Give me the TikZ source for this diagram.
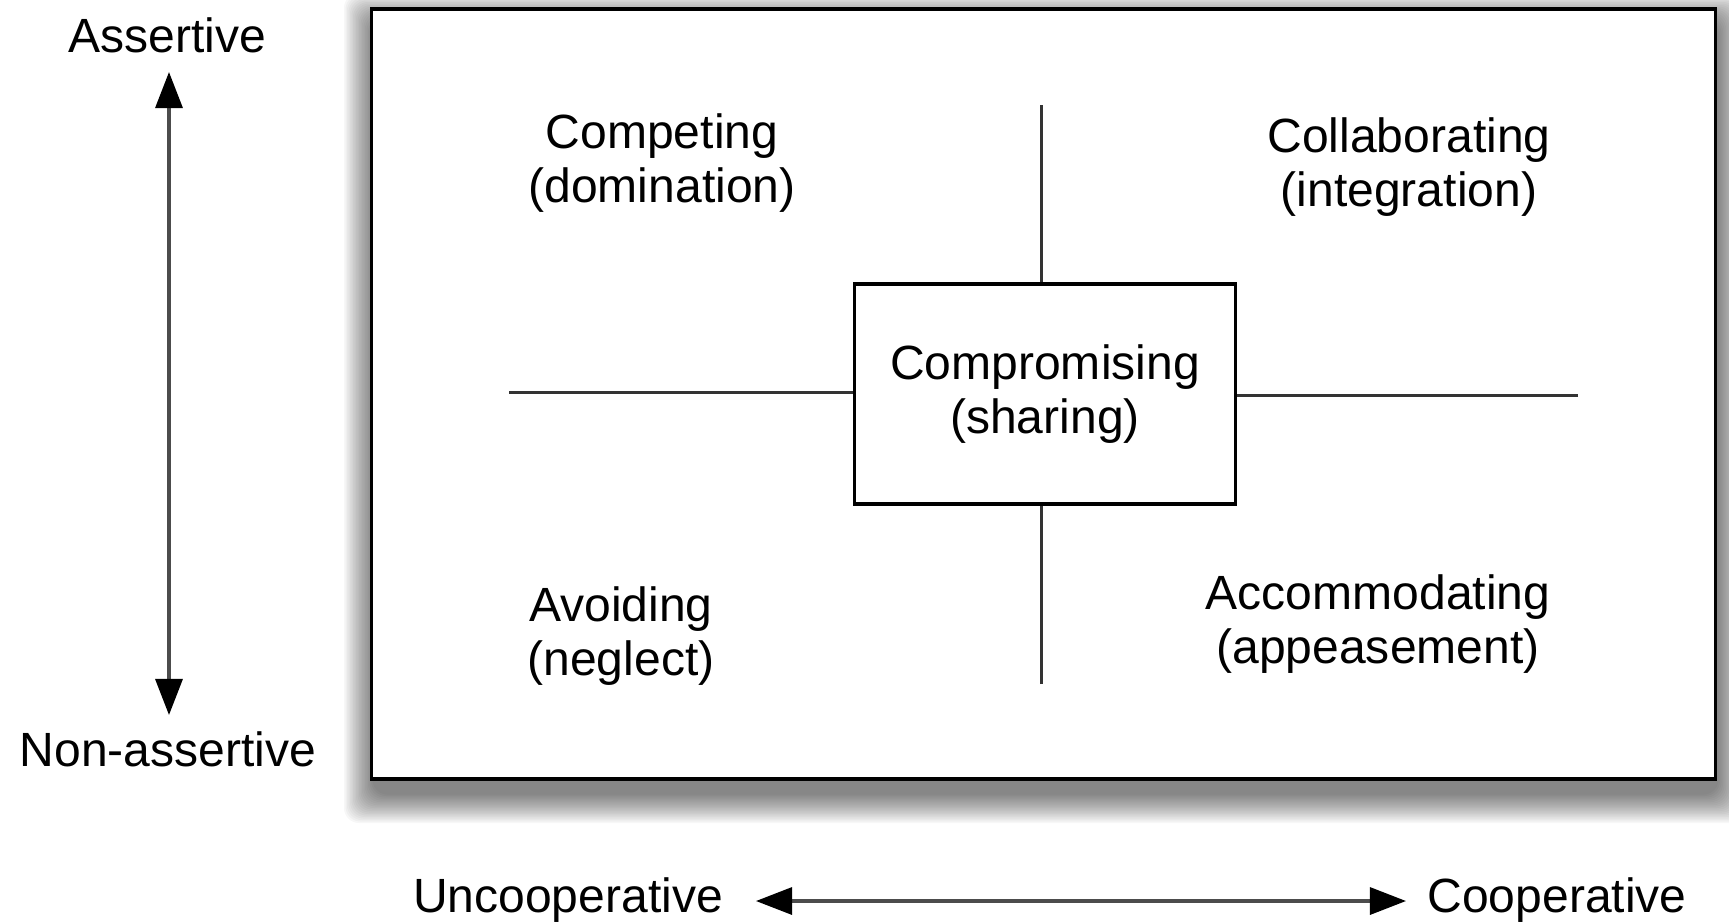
\documentclass[tikz,border=0pt]{standalone}
\usepackage{fontspec}
\setmainfont{Liberation Sans}
\usetikzlibrary{arrows.meta}
\begin{document}
\begin{tikzpicture}[x=0.01cm,y=-0.01cm,
  lbl/.style={font=\fontsize{13.66}{15.6}\selectfont, align=center, inner sep=0pt},
  quad/.style={line width=0.85pt, draw=black!80},
  axis/.style={line width=0.9pt, draw=black!70,
    {Triangle[length=0.36cm,width=0.27cm,color=black]}-{Triangle[length=0.36cm,width=0.27cm,color=black]}},
  boxline/.style={draw=black, line width=1pt}
]
\useasboundingbox (0,0) rectangle (1729,923);
% drop shadow of the frame
\foreach \i in {0,...,19}{
  \fill[black, opacity=0.03, rounded corners=0.15cm]
    (374-30+1.5*\i, 23-30+1.5*\i) rectangle (1717+30-1.5*\i, 793+30-1.5*\i);
}
% frame
\node[boxline, fill=white, minimum width=13.43cm, minimum height=7.70cm, inner sep=0pt] (frame) at (1043.5,394) {};
% centre box
\node[boxline, line width=0.9pt, minimum width=3.8cm, minimum height=2.2cm, inner sep=0pt, font=\fontsize{13.66}{15.6}\selectfont, align=center] (comp) at (1045,394) {Compromising\\(sharing)};
% quadrant lines
\coordinate (qt) at (1041,105);
\coordinate (qb) at (1041,684);
\coordinate (ql) at (509,392);
\coordinate (qr) at (1578,395);
\draw[quad] (qt) -- (qt |- comp.north);
\draw[quad] (qb) -- (qb |- comp.south);
\draw[quad] (ql) -- (ql -| comp.west);
\draw[quad] (qr) -- (qr -| comp.east);
% quadrant labels
\node[lbl] (competing) at (662,163) {Competing\\(domination)};
\node[lbl] (collab) at (1409,167) {Collaborating\\(integration)};
\node[lbl] (avoid) at (621,636) {Avoiding\\(neglect)};
\node[lbl] (accom) at (1378,624) {Accommodating\\(appeasement)};
% vertical axis
\node[lbl] (assert) at (167,35) {Assertive};
\node[lbl] (nonassert) at (168,749) {Non-assertive};
\coordinate (vt) at (169,72);
\coordinate (vb) at (169,715);
\draw[axis] (vt) -- (vb);
% horizontal axis
\node[lbl] (uncoop) at (568,900) {Uncooperative};
\node[lbl] (coop) at (1557,900) {Cooperative};
\coordinate (hl) at (756,901);
\coordinate (hr) at (1406,901);
\draw[axis] (hl) -- (hr);
\end{tikzpicture}
\end{document}
